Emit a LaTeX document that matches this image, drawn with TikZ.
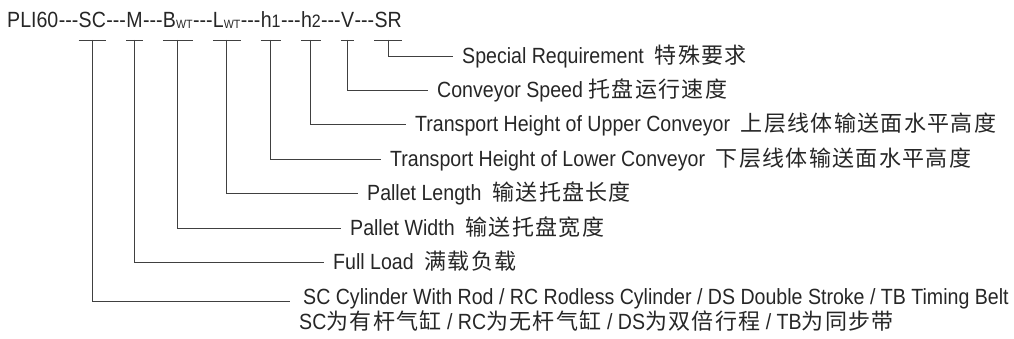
\documentclass[tikz,border=0pt]{standalone}
\usepackage{fontspec}
\setmainfont{Liberation Sans}[FakeStretch=0.89]
\newfontfamily\cjk{Noto Sans CJK SC}[Scale=1.0,LetterSpace=6]
\usetikzlibrary{positioning}

\newcommand\zh[1]{{\cjk #1}}
\newcommand\dsh{-\kern0pt-\kern0pt-\kern0pt}
\newcommand\sub[1]{\raisebox{-0.5pt}{\fontsize{12}{12}\selectfont #1}}
\newcommand\dig[1]{{\fontsize{18}{18}\selectfont #1}}

\tikzset{
  code/.style={inner sep=0pt, text=black!85, font=\fontsize{22}{24}\selectfont},
  lbl/.style={inner xsep=9pt, inner ysep=0pt, text height=15.5pt, text depth=0pt,
    text=black!85, font=\fontsize{22}{24}\selectfont},
  bar/.style={line width=0.9pt, draw=black!75},
  lead/.style={line width=0.9pt, draw=black!75}
}

\begin{document}
\begin{tikzpicture}[x=1pt,y=-1pt]
  \useasboundingbox (0,0) rectangle (1014,339);

  % type code
  \node[code, anchor=base west] (pli) at (7,28) {PLI60};
  \foreach \f/\t [remember=\f as \p (initially pli)] in
      {sc/SC, m/M, b/B\sub{WT}, l/L\sub{WT}, h1/h\dig{1}, h2/h\dig{2}, v/V, sr/SR} {
    \node[code, base right=0pt of \p] (\f-dash) {\dsh};
    \node[code, base right=0pt of \f-dash] (\f) {\t};
    \draw[bar] ([yshift=-12pt]\f.base west) -- ([yshift=-12pt]\f.base east);
  }

  % explanations
  \foreach \f/\y/\x/\t in {
      sr/56/453/{Special Requirement~~\zh{特殊要求}},
      v/90/428/{Conveyor Speed \zh{托盘运行速度}},
      h2/124/406/{Transport Height of Upper Conveyor~~\zh{上层线体输送面水平高度}},
      h1/159/381/{Transport Height of Lower Conveyor~~\zh{下层线体输送面水平高度}},
      l/193/358/{Pallet Length~~\zh{输送托盘长度}},
      b/228/341/{Pallet Width~~\zh{输送托盘宽度}},
      m/262/324/{Full Load~~\zh{满载负载}}} {
    \node[lbl, anchor=west] (\f-lbl) at (\x,\y) {\t};
    \draw[lead] ([yshift=-12pt]\f.base) |- (\f-lbl.west);
  }

  \node[lbl, inner xsep=13pt, anchor=base west] (sc-lbl) at (290,304)
    {SC Cylinder With Rod / RC Rodless Cylinder / DS Double Stroke / TB Timing Belt};
  \node[lbl, anchor=base west] (sc-lbl2) at ([yshift=-25pt]sc-lbl.base west)
    {SC\zh{为有杆气缸} / RC\zh{为无杆气缸} / DS\zh{为双倍行程} / TB\zh{为同步带}};
  \draw[lead] ([yshift=-12pt]sc.base) |- ([yshift=3pt]sc-lbl.base west);
\end{tikzpicture}
\end{document}
